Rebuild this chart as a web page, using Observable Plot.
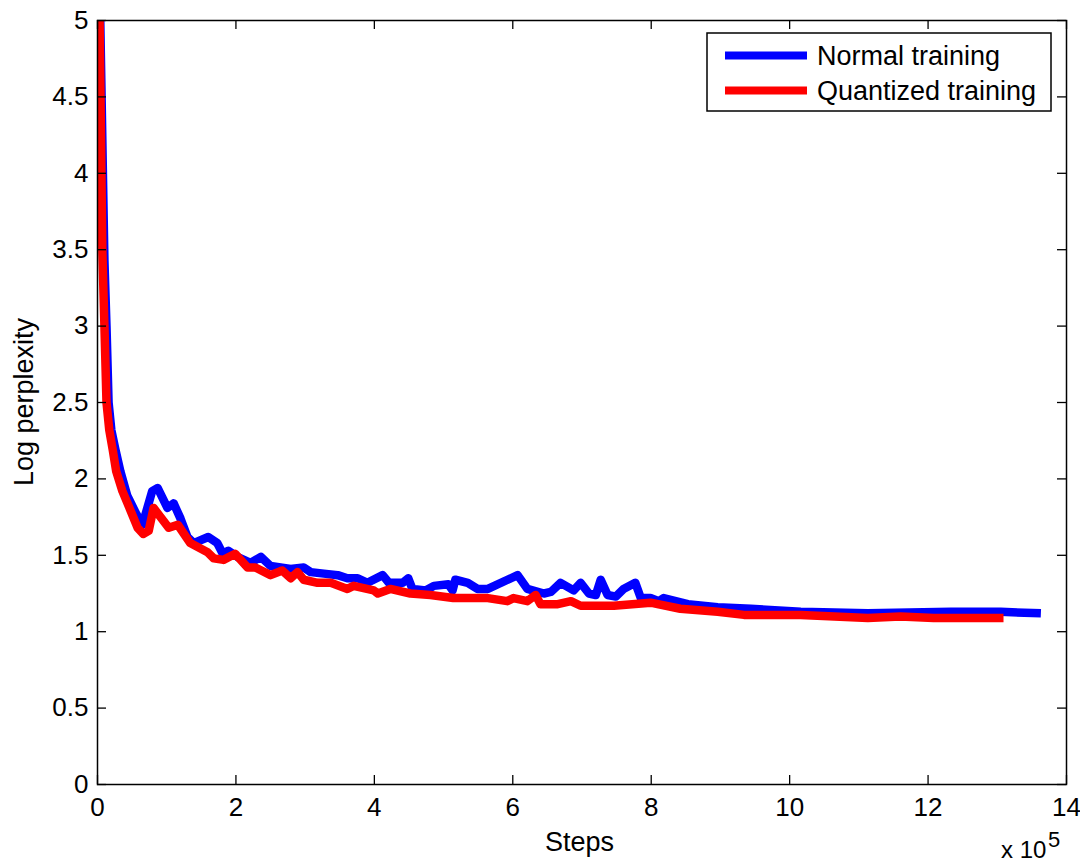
<!DOCTYPE html>
<html>
<head>
<meta charset="utf-8">
<script src="https://cdn.jsdelivr.net/npm/d3@7"></script>
<script src="https://cdn.jsdelivr.net/npm/@observablehq/plot@0.6"></script>
<style>
  html, body { margin: 0; padding: 0; background: #fff; }
  #chart { width: 1080px; height: 865px; }
</style>
</head>
<body>
<div id="chart"></div>
<script>
// Steps in units of 10^5
const normalSteps = [0.04, 0.10, 0.13, 0.16, 0.20, 0.26, 0.33, 0.43, 0.55, 0.65, 0.79, 0.87, 1.01, 1.10, 1.20, 1.30, 1.39, 1.60, 1.73, 1.81, 1.89, 2.02, 2.21, 2.36, 2.50, 2.79, 2.98, 3.08, 3.27, 3.47, 3.61, 3.76, 3.90, 4.12, 4.21, 4.41, 4.49, 4.55, 4.74, 4.86, 5.07, 5.13, 5.17, 5.35, 5.49, 5.64, 6.07, 6.21, 6.45, 6.55, 6.69, 6.88, 6.98, 7.10, 7.20, 7.27, 7.37, 7.49, 7.60, 7.77, 7.85, 7.99, 8.11, 8.18, 8.53, 8.96, 9.44, 10.16, 11.13, 12.33, 13.05, 13.63];
const normalPerplexity = [5.00, 3.43, 3.00, 2.50, 2.32, 2.19, 2.05, 1.89, 1.78, 1.70, 1.92, 1.94, 1.81, 1.84, 1.74, 1.62, 1.58, 1.62, 1.58, 1.51, 1.53, 1.49, 1.45, 1.49, 1.43, 1.41, 1.42, 1.39, 1.38, 1.37, 1.35, 1.35, 1.32, 1.37, 1.32, 1.32, 1.35, 1.28, 1.27, 1.30, 1.31, 1.27, 1.34, 1.32, 1.28, 1.28, 1.37, 1.28, 1.25, 1.26, 1.32, 1.27, 1.32, 1.25, 1.24, 1.34, 1.24, 1.23, 1.28, 1.32, 1.22, 1.22, 1.20, 1.22, 1.18, 1.16, 1.15, 1.13, 1.12, 1.13, 1.13, 1.12];

const quantSteps = [0.03, 0.07, 0.10, 0.13, 0.17, 0.22, 0.27, 0.36, 0.48, 0.58, 0.66, 0.74, 0.81, 1.03, 1.16, 1.34, 1.59, 1.68, 1.82, 1.99, 2.17, 2.28, 2.50, 2.67, 2.79, 2.89, 2.98, 3.18, 3.37, 3.61, 3.70, 3.99, 4.05, 4.23, 4.52, 4.81, 5.14, 5.35, 5.64, 5.92, 6.01, 6.21, 6.33, 6.40, 6.65, 6.84, 6.98, 7.46, 7.99, 8.42, 8.96, 9.34, 10.16, 11.13, 11.60, 12.08, 13.09];
const quantPerplexity = [5.00, 3.49, 3.00, 2.50, 2.32, 2.19, 2.05, 1.92, 1.79, 1.68, 1.64, 1.66, 1.81, 1.68, 1.70, 1.58, 1.52, 1.48, 1.47, 1.51, 1.42, 1.42, 1.37, 1.40, 1.35, 1.39, 1.34, 1.32, 1.32, 1.28, 1.30, 1.27, 1.25, 1.28, 1.25, 1.24, 1.22, 1.22, 1.22, 1.20, 1.22, 1.20, 1.24, 1.18, 1.18, 1.20, 1.17, 1.17, 1.19, 1.15, 1.13, 1.11, 1.11, 1.09, 1.10, 1.09, 1.09];

const seriesNames = ["Normal training", "Quantized training"];
const seriesColors = ["#0000ff", "#ff0000"];

const xTicks = [0, 2, 4, 6, 8, 10, 12, 14];
const yTicks = [0, 0.5, 1, 1.5, 2, 2.5, 3, 3.5, 4, 4.5, 5];
const xLabel = "Steps";
const yLabel = "Log perplexity";
const xExponent = "5";

const normalData = normalSteps.map((s, i) => ({step: s, value: normalPerplexity[i]}));
const quantData = quantSteps.map((s, i) => ({step: s, value: quantPerplexity[i]}));

const W = 1080, H = 865;
const mL = 97, mR = 14, mT = 20, mB = 81;
const frameW = W - mL - mR, frameH = H - mT - mB;
const tickLen = 9;
const font = "'Liberation Sans', Arial, Helvetica, sans-serif";

const plot = Plot.plot({
  width: W,
  height: H,
  marginLeft: mL,
  marginRight: mR,
  marginTop: mT,
  marginBottom: mB,
  style: {fontFamily: font, fontSize: "26px", color: "black", background: "white"},
  x: {domain: [0, 14]},
  y: {domain: [0, 5]},
  marks: [
    Plot.line(normalData, {x: "step", y: "value", stroke: seriesColors[0], strokeWidth: 8.5, strokeLinejoin: "round", strokeLinecap: "butt", clip: true}),
    Plot.line(quantData, {x: "step", y: "value", stroke: seriesColors[1], strokeWidth: 8.5, strokeLinejoin: "round", strokeLinecap: "butt", clip: true}),
    Plot.frame({stroke: "black", strokeWidth: 1.5}),
    Plot.tickX(xTicks, {x: d => d, stroke: "black", strokeWidth: 1.3, insetTop: frameH - tickLen}),
    Plot.tickX(xTicks, {x: d => d, stroke: "black", strokeWidth: 1.3, insetBottom: frameH - tickLen}),
    Plot.tickY(yTicks, {y: d => d, stroke: "black", strokeWidth: 1.3, insetRight: frameW - tickLen}),
    Plot.tickY(yTicks, {y: d => d, stroke: "black", strokeWidth: 1.3, insetLeft: frameW - tickLen}),
    Plot.axisX({ticks: xTicks, tickSize: 0, tickPadding: 13, tickFormat: d => String(d), label: null, fontSize: 26}),
    Plot.axisY({ticks: yTicks, tickSize: 0, tickPadding: 9, tickFormat: d => String(d), label: null, fontSize: 26})
  ]
});

document.getElementById("chart").appendChild(plot);

const svg = d3.select(plot);
svg.selectAll("text").attr("fill", "black");

function addText(x, y, str, size, anchor, transform) {
  const t = svg.append("text")
    .attr("font-family", font)
    .attr("font-size", size)
    .attr("fill", "black")
    .attr("text-anchor", anchor)
    .text(str);
  if (transform) t.attr("transform", transform);
  else t.attr("x", x).attr("y", y);
  return t;
}

// Axis titles
addText(0, 0, yLabel, 27, "middle", `translate(33, ${mT + frameH / 2}) rotate(-90)`);
addText(mL + frameW * 0.5 - 2, 851, xLabel, 27, "middle");

// Exponent
addText(1001, 858, "x 10", 24, "start");
addText(1048, 847, xExponent, 22, "start");

// Legend
const lg = svg.append("g");
lg.append("rect")
  .attr("x", 707).attr("y", 33).attr("width", 344).attr("height", 78)
  .attr("fill", "white").attr("stroke", "black").attr("stroke-width", 1.5);
seriesNames.forEach((name, i) => {
  const cy = 55.5 + i * 35;
  lg.append("line")
    .attr("x1", 725).attr("x2", 807).attr("y1", cy).attr("y2", cy)
    .attr("stroke", seriesColors[i]).attr("stroke-width", 8);
  lg.append("text")
    .attr("x", 817).attr("y", cy + 9.5)
    .attr("font-family", font)
    .attr("font-size", 27)
    .attr("text-anchor", "start")
    .attr("fill", "black")
    .text(name);
});
</script>
</body>
</html>
